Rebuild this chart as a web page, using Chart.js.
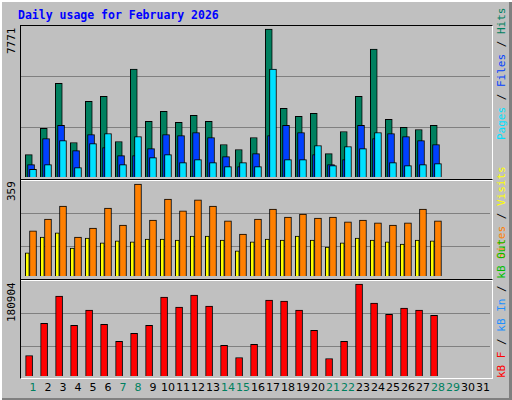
<!DOCTYPE html>
<html><head><meta charset="utf-8">
<script src="https://cdn.jsdelivr.net/npm/chart.js@4"></script>
<style>
body{margin:0;background:#fff}
#w{position:relative;width:512px;height:400px;background:#c0c0c0;box-shadow:inset 2px 2px #fff,inset -3px -2px #808080;overflow:hidden}
.a{position:absolute}
.fr{position:absolute;border:1px solid #000;box-sizing:border-box}
.rl{position:absolute;transform-origin:0 0;transform:rotate(-90deg);white-space:nowrap;font:11px "DejaVu Sans Mono",monospace}
.t{position:absolute;font:bold 11.5px "DejaVu Sans Mono",monospace;color:#0000ff;left:18px;top:8px}
.d{position:absolute;font:11px "DejaVu Sans",sans-serif;top:381px;width:20px;text-align:center}
canvas{position:absolute}
</style></head><body>
<div id="w">
<div class="t">Daily usage for February 2026</div>
<div class="fr" style="left:20px;top:25px;width:473px;height:156px;border-color:#000 #fff #fff #000"></div>
<div class="fr" style="left:20px;top:179px;width:473px;height:102px;border-color:#000 #fff #fff #000"></div>
<div class="fr" style="left:20px;top:279px;width:473px;height:100px;border-color:#000 #fff #fff #000"></div>
<div class="a" style="left:21px;top:26px;width:469px;height:151px"><canvas id="c1"></canvas></div>
<div class="a" style="left:21px;top:181px;width:469px;height:95px"><canvas id="c2"></canvas></div>
<div class="a" style="left:21px;top:281px;width:469px;height:95px"><canvas id="c3"></canvas></div>
<div class="rl" style="left:5px;top:54px">7771</div>
<div class="rl" style="left:5px;top:201px">359</div>
<div class="rl" style="left:5px;top:322px">180904</div>
<div class="rl" style="left:495px;top:140px"><span style="color:#00e0ff">Pages</span> / <span style="color:#0040ff">Files</span> / <span style="color:#00805f">Hits</span></div>
<div class="rl" style="left:495px;top:259px"><span style="color:#ff8000">Sites</span> / <span style="color:#ffff00">Visits</span></div>
<div class="rl" style="left:495px;top:378px"><span style="color:#ff0000">kB F</span> / <span style="color:#1e90ff">kB In</span> / <span style="color:#00c000">kB Out</span></div>
<div id="days"></div>
</div>
<script>
const days=[1,2,3,4,5,6,7,8,9,10,11,12,13,14,15,16,17,18,19,20,21,22,23,24,25,26,27,28,29,30,31];
const weekend=[1,7,8,14,15,21,22,28,29];
const hits=[1178,2549,4922,1811,3973,4237,1863,5661,2918,3446,2866,3235,2918,1705,1442,2074,7771,3604,3182,3340,1231,2391,4237,6716,3024,2602,2496,2707];
const files=[650,2022,2707,1389,2233,1547,1125,1125,1494,2233,2180,2338,2074,1072,545,1231,2180,2707,2338,1178,650,914,2707,2022,2285,2127,1916,1705];
const pages=[404,650,1916,492,1758,2285,650,2127,1020,1178,756,914,756,545,756,545,5661,914,914,1653,598,1600,1494,2338,756,598,650,703];
const sites=[176,222,273,152,187,265,199,359,218,300,254,297,273,215,164,222,261,230,242,226,230,211,218,207,199,207,261,215];
const visits=[90,152,168,109,148,129,137,133,144,144,140,156,156,140,98,133,144,140,156,140,113,129,148,140,133,125,140,137];
const kbF=[40272,103651,157128,99690,129399,101671,68001,83845,99690,155147,135341,159108,137322,60078,36311,62059,149205,147224,129399,89787,34330,68001,180904,143263,121477,133360,129399,119497];

const dc=document.getElementById('days');
days.forEach(d=>{const s=document.createElement('div');s.className='d';s.textContent=d;
 s.style.left=(23+15*(d-1))+'px';s.style.color=weekend.includes(d)?'#00805f':'#000';dc.appendChild(s);});

const gridPlugin={id:'gl',beforeDatasetsDraw(c){const o=c.options.plugins.gl;const y=c.scales.y,ctx=c.ctx;
 ctx.save();ctx.strokeStyle='#808080';ctx.lineWidth=1;
 o.fr.forEach(f=>{const p=Math.round(y.getPixelForValue(y.max*f))+0.5;ctx.beginPath();ctx.moveTo(0,p);ctx.lineTo(c.width,p);ctx.stroke();});
 ctx.restore();}};
function ds(vals,off,color,th,order){return{data:vals.map((v,i)=>({x:i+1+off,y:v})),backgroundColor:color,borderColor:'#000',borderWidth:1,barThickness:th,order:order,grouped:false,borderSkipped:'bottom'};}
function mk(id,sets,max,fr){return new Chart(document.getElementById(id),{type:'bar',data:{datasets:sets},plugins:[gridPlugin],
 options:{responsive:true,maintainAspectRatio:false,animation:false,layout:{padding:0},
 plugins:{legend:{display:false},tooltip:{enabled:false},gl:{fr:fr}},
 scales:{x:{type:'linear',display:false,min:0.33,max:31.6,offset:false},y:{display:false,min:0,max:max}}}});}
mk('c1',[ds(hits,-0.15,'#00805f',7,3),ds(files,0,'#0040ff',7,2),ds(pages,0.13,'#00e0ff',7,1)],7771*151/148,[1/3,2/3]);
mk('c2',[ds(visits,-0.25,'#ffff00',4,2),ds(sites,0.13,'#ff8000',7,1)],359*95/92,[30/95,63/95]);
mk('c3',[ds(kbF,-0.13,'#ff0000',7,1)],180904*95/92,[30/95,63/95]);
</script></body></html>
